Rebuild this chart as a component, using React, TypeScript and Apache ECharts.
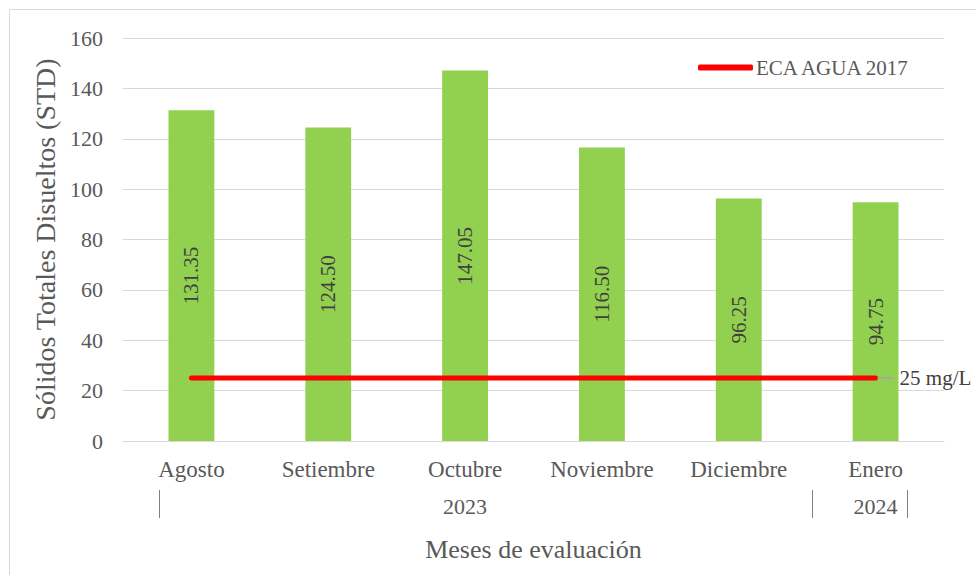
import React, { useEffect, useRef } from "react";
import * as echarts from "echarts";

const categories = ["Agosto", "Setiembre", "Octubre", "Noviembre", "Diciembre", "Enero"];
const yearLabels = ["", "", "2023", "", "", "2024"];
const stdValues = [131.35, 124.5, 147.05, 116.5, 96.25, 94.75];
const ecaValues = [25, 25, 25, 25, 25, 25];
const ecaName = "ECA AGUA 2017";
const ecaEndLabel = "25 mg/L";
const yTicks = { min: 0, max: 160, interval: 20 };

const FONT = "'Liberation Serif', 'Times New Roman', serif";

export default function App() {
  const ref = useRef<HTMLDivElement>(null);
  useEffect(() => {
    if (!ref.current) return;
    const chart = echarts.init(ref.current, undefined, { renderer: "svg" });
    chart.setOption({
      animation: false,
      backgroundColor: "#ffffff",
      textStyle: { fontFamily: FONT },
      grid: { left: 123, right: 32, top: 38, bottom: 134 },
      legend: {
        left: 693,
        top: 52,
        itemWidth: 55,
        itemHeight: 6,
        itemGap: 10,
        data: [{ name: ecaName, icon: "roundRect", itemStyle: { color: "#ff0000" } }],
        textStyle: { fontFamily: FONT, fontSize: 21, color: "#595959", padding: [0, 0, 0, -2] },
      },
      xAxis: [
        {
          type: "category",
          data: categories,
          axisLine: { show: true, lineStyle: { color: "#d9d9d9", width: 1 } },
          axisTick: { show: false },
          axisLabel: { fontFamily: FONT, fontSize: 23, color: "#595959", margin: 17, interval: 0 },
          name: "Meses de evaluación",
          nameLocation: "middle",
          nameGap: 95,
          nameTextStyle: { fontFamily: FONT, fontSize: 26, color: "#595959" },
        },
        {
          type: "category",
          data: yearLabels,
          position: "bottom",
          axisLine: { show: false },
          axisTick: { show: false },
          splitLine: { show: false },
          axisLabel: { fontFamily: FONT, fontSize: 22, color: "#595959", margin: 54, interval: 0 },
        },
      ],
      yAxis: {
        type: "value",
        min: yTicks.min,
        max: yTicks.max,
        interval: yTicks.interval,
        axisLine: { show: false },
        axisTick: { show: false },
        splitLine: { lineStyle: { color: "#d9d9d9", width: 1 } },
        axisLabel: { fontFamily: FONT, fontSize: 22, color: "#595959", margin: 20 },
        name: "Sólidos Totales Disueltos (STD)",
        nameLocation: "middle",
        nameGap: 64,
        nameTextStyle: { fontFamily: FONT, fontSize: 28, color: "#595959" },
      },
      series: [
        {
          name: "STD",
          type: "bar",
          data: stdValues,
          barWidth: "33.5%",
          itemStyle: { color: "#92d050" },
          label: {
            show: true,
            position: "inside",
            rotate: 90,
            formatter: (p: any) => Number(p.value).toFixed(2),
            fontFamily: FONT,
            fontSize: 21,
            color: "#404040",
          },
          z: 2,
        },
        {
          name: ecaName,
          type: "line",
          symbol: "none",
          data: ecaValues,
          lineStyle: { color: "#ff0000", width: 5, cap: "round" },
          itemStyle: { color: "#ff0000" },
          endLabel: {
            show: true,
            distance: 2,
            formatter: "{l|}{t|" + ecaEndLabel + "}",
            rich: {
              l: { width: 16, height: 2, backgroundColor: "#a6a6a6" },
              t: { fontFamily: FONT, fontSize: 21, color: "#404040", padding: [0, 0, 0, 6] },
            },
          },
          z: 3,
        },
      ],
      graphic: [
        {
          type: "rect",
          shape: { x: 9.5, y: 9.5, width: 1000, height: 600 },
          style: { fill: "none", stroke: "#d9d9d9", lineWidth: 1 },
          silent: true,
        },
        {
          type: "line",
          shape: { x1: 159.5, y1: 490, x2: 159.5, y2: 518 },
          style: { stroke: "#7f7f7f", lineWidth: 1 },
          silent: true,
        },
        {
          type: "line",
          shape: { x1: 812.5, y1: 490, x2: 812.5, y2: 518 },
          style: { stroke: "#7f7f7f", lineWidth: 1 },
          silent: true,
        },
        {
          type: "line",
          shape: { x1: 907.5, y1: 490, x2: 907.5, y2: 518 },
          style: { stroke: "#7f7f7f", lineWidth: 1 },
          silent: true,
        },
      ],
    });
    return () => chart.dispose();
  }, []);
  return (
    <div
      ref={ref}
      style={{ position: "fixed", left: 0, top: 0, width: 976, height: 575 }}
    />
  );
}
